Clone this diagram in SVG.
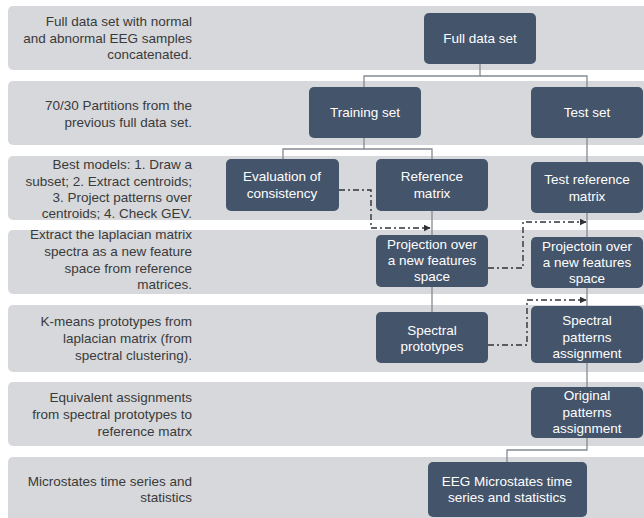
<svg xmlns="http://www.w3.org/2000/svg" width="644" height="518" viewBox="0 0 644 518">
<style>
.band{fill:#d6d8db}
.lbl{font-family:"Liberation Sans",Arial,sans-serif;font-size:13.5px;fill:#3a3a3a;text-anchor:end}
.node rect{fill:#44546a}
.node text{font-family:"Liberation Sans",Arial,sans-serif;font-size:13.5px;fill:#ffffff;text-anchor:middle}
.solid{fill:none;stroke:#848b93;stroke-width:1.3}
.dd{fill:none;stroke:#2f3338;stroke-width:1.4;stroke-dasharray:6 3 2 3}
</style>
<defs>
<marker id="ah" viewBox="0 0 10 10" refX="9" refY="5" markerWidth="7" markerHeight="7" markerUnits="userSpaceOnUse" orient="auto">
<path d="M0,0 L10,5 L0,10 z" fill="#2f3338"/>
</marker>
</defs>
<rect width="644" height="518" fill="#ffffff"/>
<g id="bands">
<rect class="band" x="8" y="6" width="640" height="64" rx="5"/>
<rect class="band" x="8" y="81" width="640" height="64" rx="5"/>
<rect class="band" x="8" y="156" width="640" height="64" rx="5"/>
<rect class="band" x="8" y="230" width="640" height="64" rx="5"/>
<rect class="band" x="8" y="305" width="640" height="67" rx="5"/>
<rect class="band" x="8" y="382" width="640" height="64" rx="5"/>
<rect class="band" x="8" y="457" width="640" height="66" rx="5"/>
</g>
<g id="labels">
<text class="lbl" x="192" y="26">Full data set with normal</text>
<text class="lbl" x="192" y="43">and abnormal EEG samples</text>
<text class="lbl" x="192" y="59">concatenated.</text>
<text class="lbl" x="192" y="110">70/30 Partitions from the</text>
<text class="lbl" x="192" y="127">previous full data set.</text>
<text class="lbl" x="192" y="169">Best models: 1. Draw a</text>
<text class="lbl" x="192" y="186">subset; 2. Extract centroids;</text>
<text class="lbl" x="192" y="202">3. Project patterns over</text>
<text class="lbl" x="192" y="218">centroids; 4. Check GEV.</text>
<text class="lbl" x="192" y="239">Extract the laplacian matrix</text>
<text class="lbl" x="192" y="256">spectra as a new feature</text>
<text class="lbl" x="192" y="273">space from reference</text>
<text class="lbl" x="192" y="289">matrices.</text>
<text class="lbl" x="192" y="326">K-means prototypes from</text>
<text class="lbl" x="192" y="343">laplacian matrix (from</text>
<text class="lbl" x="192" y="360">spectral clustering).</text>
<text class="lbl" x="192" y="402">Equivalent assignments</text>
<text class="lbl" x="192" y="419">from spectral prototypes to</text>
<text class="lbl" x="192" y="436">reference matrx</text>
<text class="lbl" x="192" y="486">Microstates time series and</text>
<text class="lbl" x="192" y="502">statistics</text>
</g>
<g id="connectors">
<path class="solid" d="M480,64 V76 H364 V87"/>
<path class="solid" d="M480,76 H587 V87"/>
<path class="solid" d="M364,138 V149 H283 V159"/>
<path class="solid" d="M364,149 H432 V159"/>
<path class="solid" d="M432,211 V235"/>
<path class="solid" d="M432,287 V312"/>
<path class="solid" d="M587,138 V162"/>
<path class="solid" d="M587,213 V237"/>
<path class="solid" d="M587,288 V306"/>
<path class="solid" d="M587,363 V387"/>
<path class="solid" d="M587,438 V450 H507 V462"/>
<path class="dd" d="M339,190 H371 V228 H430" marker-end="url(#ah)"/>
<path class="dd" d="M488,268 H523 V222 H586" marker-end="url(#ah)"/>
<path class="dd" d="M488,345 H527 V300 H586" marker-end="url(#ah)"/>
</g>
<g id="n-full" class="node"><rect x="424" y="13" width="112" height="51" rx="5"/><text x="480" y="43">Full data set</text></g>
<g id="n-train" class="node"><rect x="309" y="87" width="112" height="51" rx="5"/><text x="365" y="117">Training set</text></g>
<g id="n-test" class="node"><rect x="531" y="87" width="112" height="51" rx="5"/><text x="587" y="117">Test set</text></g>
<g id="n-eval" class="node"><rect x="226" y="159" width="113" height="52" rx="5"/><text x="282" y="181">Evaluation of</text><text x="282" y="198">consistency</text></g>
<g id="n-ref" class="node"><rect x="376" y="159" width="112" height="52" rx="5"/><text x="432" y="181">Reference</text><text x="432" y="198">matrix</text></g>
<g id="n-testref" class="node"><rect x="531" y="162" width="112" height="51" rx="5"/><text x="587" y="184">Test reference</text><text x="587" y="201">matrix</text></g>
<g id="n-proj" class="node"><rect x="376" y="235" width="112" height="52" rx="5"/><text x="432" y="249">Projection over</text><text x="432" y="265">a new features</text><text x="432" y="281">space</text></g>
<g id="n-projt" class="node"><rect x="531" y="237" width="112" height="51" rx="5"/><text x="587" y="251">Projectoin over</text><text x="587" y="267">a new features</text><text x="587" y="283">space</text></g>
<g id="n-specproto" class="node"><rect x="376" y="312" width="112" height="51" rx="5"/><text x="432" y="335">Spectral</text><text x="432" y="351">prototypes</text></g>
<g id="n-specassign" class="node"><rect x="531" y="306" width="112" height="57" rx="5"/><text x="587" y="325">Spectral</text><text x="587" y="342">patterns</text><text x="587" y="358">assignment</text></g>
<g id="n-orig" class="node"><rect x="531" y="387" width="112" height="51" rx="5"/><text x="587" y="400">Original</text><text x="587" y="417">patterns</text><text x="587" y="433">assignment</text></g>
<g id="n-eeg" class="node"><rect x="428" y="462" width="159" height="55" rx="5"/><text x="507" y="486">EEG Microstates time</text><text x="507" y="502">series and statistics</text></g>
</svg>
